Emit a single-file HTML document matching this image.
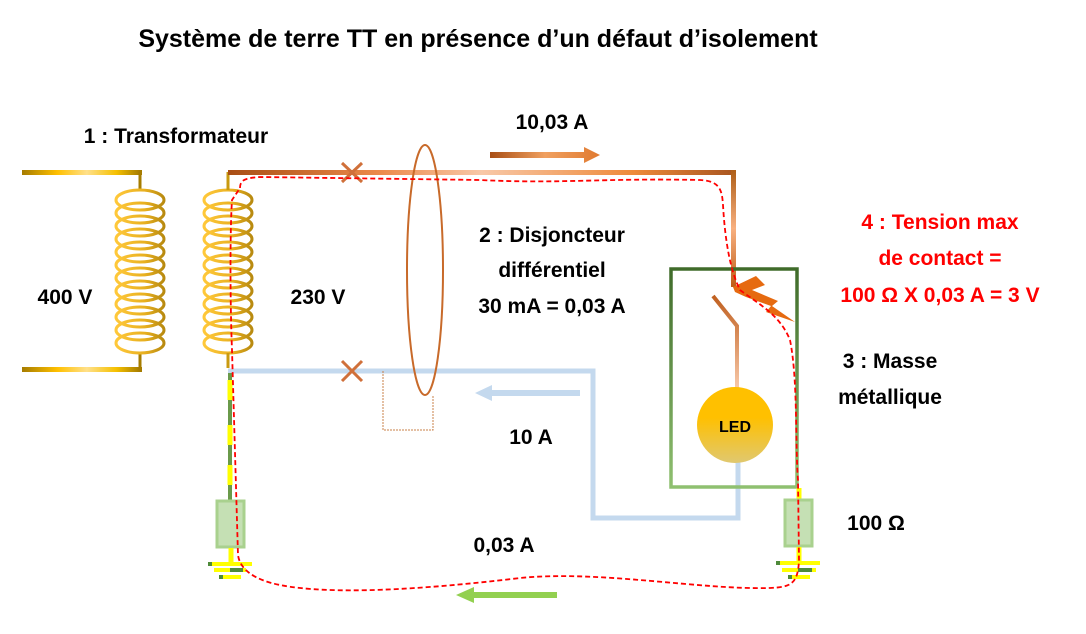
<!DOCTYPE html>
<html><head><meta charset="utf-8"><style>
html,body{margin:0;padding:0;background:#fff;width:1086px;height:634px;overflow:hidden}
svg text{font-family:"Liberation Sans",sans-serif;font-weight:bold}
</style></head><body>
<svg width="1086" height="634" viewBox="0 0 1086 634" xmlns="http://www.w3.org/2000/svg">
<defs>
<linearGradient id="gold" gradientUnits="userSpaceOnUse" x1="22" y1="0" x2="140" y2="0"><stop offset="0" stop-color="#a67c00"/><stop offset="0.3" stop-color="#ffc000"/><stop offset="0.55" stop-color="#ffe08a"/><stop offset="0.8" stop-color="#f5c000"/><stop offset="1" stop-color="#a67c00"/></linearGradient>
<linearGradient id="coil" x1="0" x2="1"><stop offset="0" stop-color="#ffc83a"/><stop offset="0.6" stop-color="#e8b020"/><stop offset="1" stop-color="#b88a10"/></linearGradient>
<linearGradient id="phase" gradientUnits="userSpaceOnUse" x1="228" y1="0" x2="735" y2="0"><stop offset="0" stop-color="#a84e15"/><stop offset="0.3" stop-color="#ec8a4a"/><stop offset="0.5" stop-color="#f8c8a8"/><stop offset="0.8" stop-color="#ee8a3a"/><stop offset="1" stop-color="#a85520"/></linearGradient>
<linearGradient id="arr" x1="0" x2="1"><stop offset="0" stop-color="#a84e15"/><stop offset="0.5" stop-color="#f0a060"/><stop offset="1" stop-color="#e07a30"/></linearGradient>
<linearGradient id="vert" gradientUnits="userSpaceOnUse" x1="0" y1="172" x2="0" y2="285"><stop offset="0" stop-color="#b0601a"/><stop offset="0.5" stop-color="#f8b080"/><stop offset="1" stop-color="#c0601a"/></linearGradient>
<linearGradient id="led" x1="0" y1="0" x2="0" y2="1"><stop offset="0.4" stop-color="#ffc000"/><stop offset="1" stop-color="#e0c870"/></linearGradient>
<linearGradient id="box" x1="0" y1="0" x2="0" y2="1"><stop offset="0" stop-color="#3f6b2a"/><stop offset="1" stop-color="#8fc070"/></linearGradient>
<linearGradient id="sw" gradientUnits="userSpaceOnUse" x1="0" y1="296" x2="0" y2="388"><stop offset="0" stop-color="#c06020"/><stop offset="1" stop-color="#f8c8a8"/></linearGradient>
</defs>

<text x="478" y="47" font-size="25" text-anchor="middle" fill="#000">Système de terre TT en présence d’un défaut d’isolement</text>

<!-- primary -->
<rect x="22" y="170" width="120" height="5" fill="url(#gold)"/>
<rect x="22" y="367" width="120" height="5" fill="url(#gold)"/>
<path d="M140 172 V190 M140 369 V352" stroke="#a67c00" stroke-width="3"/>
<g fill="none" stroke="url(#coil)" stroke-width="3">
<ellipse cx="140" cy="200" rx="24" ry="10"/><ellipse cx="140" cy="213" rx="24" ry="10"/><ellipse cx="140" cy="226" rx="24" ry="10"/><ellipse cx="140" cy="239" rx="24" ry="10"/><ellipse cx="140" cy="252" rx="24" ry="10"/><ellipse cx="140" cy="265" rx="24" ry="10"/><ellipse cx="140" cy="278" rx="24" ry="10"/><ellipse cx="140" cy="291" rx="24" ry="10"/><ellipse cx="140" cy="304" rx="24" ry="10"/><ellipse cx="140" cy="317" rx="24" ry="10"/><ellipse cx="140" cy="330" rx="24" ry="10"/><ellipse cx="140" cy="343" rx="24" ry="10"/>
<ellipse cx="228" cy="200" rx="24" ry="10"/><ellipse cx="228" cy="213" rx="24" ry="10"/><ellipse cx="228" cy="226" rx="24" ry="10"/><ellipse cx="228" cy="239" rx="24" ry="10"/><ellipse cx="228" cy="252" rx="24" ry="10"/><ellipse cx="228" cy="265" rx="24" ry="10"/><ellipse cx="228" cy="278" rx="24" ry="10"/><ellipse cx="228" cy="291" rx="24" ry="10"/><ellipse cx="228" cy="304" rx="24" ry="10"/><ellipse cx="228" cy="317" rx="24" ry="10"/><ellipse cx="228" cy="330" rx="24" ry="10"/><ellipse cx="228" cy="343" rx="24" ry="10"/>
</g>
<path d="M228 190 V172 M228 353 V368" stroke="#c99a10" stroke-width="3"/>

<!-- phase -->
<rect x="228" y="170" width="508" height="5" fill="url(#phase)"/>
<rect x="731" y="170" width="5" height="117" fill="url(#vert)"/>
<polygon points="733,287 756,276 765,285 752,290 778,301 772,306 795,322 766,312 771,306 746,297 735,292" fill="#e66a10"/>
<!-- neutral -->
<path d="M228 371 H593 V518 H738 V460" stroke="#c4d9ee" stroke-width="5" fill="none"/>
<!-- crosses -->
<g stroke="#d0703a" stroke-width="3"><path d="M342 163 L362 182 M362 163 L342 182"/><path d="M342 361 L362 381 M362 361 L342 381"/></g>
<!-- ellipse & dotted -->
<ellipse cx="425" cy="270" rx="18" ry="125" fill="none" stroke="#c86a2a" stroke-width="2"/>
<path d="M383 371 V430 H433 V395" stroke="#c8804a" stroke-width="1" stroke-dasharray="2,1" fill="none"/>
<!-- arrows -->
<path d="M490 152 H584 V147 L600 155 L584 163 V158 H490 Z" fill="url(#arr)"/>
<path d="M580 390 H492 V385 L475 393 L492 401 V396 H580 Z" fill="#c4d9ee"/>
<path d="M557 592 H474 V587 L456 595 L474 603 V598 H557 Z" fill="#92d050"/>

<!-- box -->
<rect x="671" y="269" width="126" height="218" fill="none" stroke="url(#box)" stroke-width="3.5"/>
<path d="M713 296 L737 326 V388" stroke="url(#sw)" stroke-width="4" fill="none"/>
<circle cx="735" cy="425" r="38" fill="url(#led)"/>
<text x="735" y="432" font-size="16" text-anchor="middle">LED</text>

<!-- left earth -->
<path d="M230 373 V500" stroke="#6a9a4a" stroke-width="4"/>
<path d="M230 380 V400 M230 425 V445 M230 465 V485" stroke="#ffff00" stroke-width="5"/>
<rect x="217" y="501" width="27" height="46" fill="#c5e0b4" stroke="#a9d18e" stroke-width="3"/>
<path d="M231 548 V563" stroke="#ffff00" stroke-width="5"/>
<path d="M208 564 H252 M214 570 H246 M219 577 H241" stroke="#ffff00" stroke-width="4"/>
<path d="M208 564 H212 M230 570 H243 M219 577 H223" stroke="#4e8a3a" stroke-width="4"/>
<!-- right earth -->
<path d="M799 488 V499" stroke="#ffff00" stroke-width="5"/>
<rect x="785" y="500" width="27" height="46" fill="#c5e0b4" stroke="#a9d18e" stroke-width="3"/>
<path d="M799 547 V562" stroke="#ffff00" stroke-width="5"/>
<path d="M776 563 H820 M782 570 H816 M788 577 H810" stroke="#ffff00" stroke-width="4"/>
<path d="M776 563 H780 M798 570 H812 M788 577 H792" stroke="#4e8a3a" stroke-width="4"/>

<!-- fault path -->
<path d="M240 188 C240 180 245 178 260 177 L480 180 C560 184 600 178 700 180 C720 181 722 190 723 205 C725 240 730 270 740 290 C760 305 780 315 790 340 C798 380 795 440 798 480 L799 560 C798 585 790 587 770 588 C700 590 600 570 520 578 C420 590 330 595 280 585 C255 580 240 570 238 555 L232 350 C230 300 230 230 232 200 Z" fill="none" stroke="#ff0000" stroke-width="1.8" stroke-dasharray="5,3"/>

<!-- labels -->
<g font-size="21" fill="#000">
<text x="176" y="143" text-anchor="middle">1 : Transformateur</text>
<text x="65" y="304" text-anchor="middle">400 V</text>
<text x="318" y="304" text-anchor="middle">230 V</text>
<text x="552" y="129" text-anchor="middle">10,03 A</text>
<text x="552" y="242" text-anchor="middle">2 : Disjoncteur</text>
<text x="552" y="277" text-anchor="middle">différentiel</text>
<text x="552" y="313" text-anchor="middle">30 mA = 0,03 A</text>
<text x="531" y="444" text-anchor="middle">10 A</text>
<text x="504" y="552" text-anchor="middle">0,03 A</text>
<text x="890" y="368" text-anchor="middle">3 : Masse</text>
<text x="890" y="404" text-anchor="middle">métallique</text>
<text x="876" y="530" text-anchor="middle">100 Ω</text>
</g>
<g font-size="21" fill="#ff0000" text-anchor="middle">
<text x="940" y="229">4 : Tension max</text>
<text x="940" y="265">de contact =</text>
<text x="940" y="302">100 Ω X 0,03 A = 3 V</text>
</g>
</svg>
</body></html>
